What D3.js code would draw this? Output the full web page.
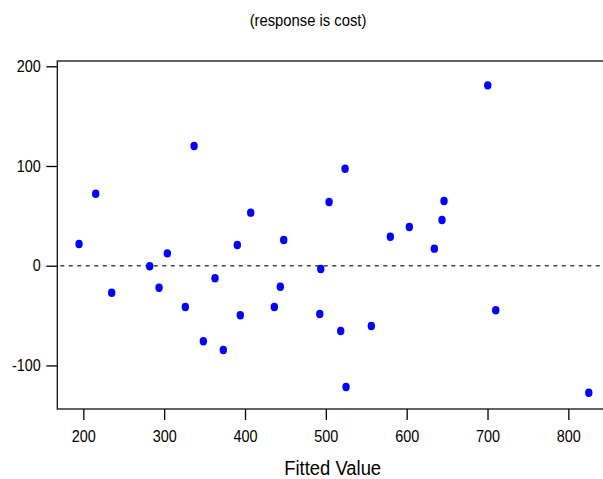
<!DOCTYPE html>
<html>
<head>
<meta charset="utf-8">
<script src="https://cdn.jsdelivr.net/npm/d3@7"></script>
<style>
  html, body { margin: 0; padding: 0; background: #fff; }
  svg { display: block; }
  text { font-family: "Liberation Sans", Arial, Helvetica, sans-serif; fill: #000; }
</style>
</head>
<body>
<svg id="chart" width="603" height="479"></svg>
<script>
// Fitted values and residuals of the cost model
const fitted = [194.7, 215.3, 235.1, 282.1, 293.7, 303.9, 326.2, 337.0, 348.5, 373.2,
                390.5, 394.2, 407.1, 436.3, 443.7, 447.9, 362.9, 523.8, 504.0, 646.2,
                643.7, 603.3, 579.8, 634.2, 493.7, 492.5, 518.4, 556.3, 525.0, 700.3,
                710.2, 825.3];
const residuals = [21.8, 72.2, -27.1, -0.6, -22.1, 12.4, -41.4, 120.1, -75.8, -84.6,
                   20.8, -49.7, 53.2, -41.4, -21.1, 25.8, -12.6, 97.3, 63.9, 64.9,
                   45.8, 38.8, 29.1, 17.1, -3.3, -48.4, -65.5, -60.5, -121.7, 180.9,
                   -44.7, -127.4];
const xTicks = [200, 300, 400, 500, 600, 700, 800];
const yTicks = [-100, 0, 100, 200];
const title = "(response is cost)";
const xLabel = "Fitted Value";

const svg = d3.select("#chart");
const plotLeft = 57.3, plotRight = 612, plotTop = 61, plotBottom = 409;

const x = d3.scaleLinear().domain([167.8, 854]).range([plotLeft, plotRight]);
const y = d3.scaleLinear().domain([-143.7, 205.3]).range([plotBottom, plotTop]);

// plain hyphen for negatives
const fmt = d => String(d);

// narrow the glyphs horizontally, the way the font in this style is set
function condense(sel, k) {
  sel.each(function () {
    const w = this.getComputedTextLength();
    d3.select(this).attr("textLength", w * k).attr("lengthAdjust", "spacingAndGlyphs");
  });
}

// title
svg.append("text")
  .attr("x", 308).attr("y", 25.7)
  .attr("text-anchor", "middle")
  .style("font-size", "17px")
  .text(title)
  .call(condense, 0.87);

// zero reference line
svg.append("line")
  .attr("x1", plotLeft + 3).attr("x2", plotRight)
  .attr("y1", y(0)).attr("y2", y(0))
  .attr("stroke", "#444").attr("stroke-width", 1.5)
  .attr("stroke-dasharray", "4,4.5");

// x axis
const gx = svg.append("g").attr("transform", `translate(0,${plotBottom})`)
  .call(d3.axisBottom(x).tickValues(xTicks).tickFormat(fmt)
    .tickSize(11).tickSizeOuter(0).tickPadding(6));
gx.select(".domain").remove();
gx.selectAll(".tick line").attr("stroke", "#000").attr("stroke-width", 1.3);
gx.selectAll(".tick text")
  .attr("y", 0).attr("dy", 0)
  .attr("transform", "translate(0,32.8)")
  .style("font-size", "16px")
  .call(condense, 0.9);

// y axis
const gy = svg.append("g").attr("transform", `translate(${plotLeft},0)`)
  .call(d3.axisLeft(y).tickValues(yTicks).tickFormat(fmt)
    .tickSize(11).tickSizeOuter(0).tickPadding(5.5));
gy.select(".domain").remove();
gy.selectAll(".tick line").attr("stroke", "#000").attr("stroke-width", 1.3);
gy.selectAll(".tick text")
  .style("font-size", "16px")
  .call(condense, 0.9);

// plot frame (left, top, bottom; the right side runs past the view)
svg.append("rect")
  .attr("x", plotLeft).attr("y", plotTop)
  .attr("width", plotRight - plotLeft).attr("height", plotBottom - plotTop)
  .attr("fill", "none").attr("stroke", "#111").attr("stroke-width", 1.3);

// residual points
svg.append("g").selectAll("ellipse")
  .data(fitted.map((f, i) => [f, residuals[i]]))
  .join("ellipse")
  .attr("cx", d => x(d[0]))
  .attr("cy", d => y(d[1]))
  .attr("rx", 3.7).attr("ry", 4.2)
  .attr("fill", "#0000ff");

// x axis title
svg.append("text")
  .attr("x", 332.7).attr("y", 475)
  .attr("text-anchor", "middle")
  .style("font-size", "20px")
  .text(xLabel)
  .call(condense, 0.92);
</script>
</body>
</html>
